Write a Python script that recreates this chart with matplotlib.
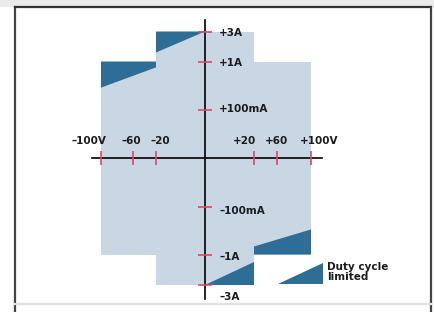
import numpy as np
import matplotlib
matplotlib.use("Agg")
import matplotlib.pyplot as plt
from matplotlib.patches import Polygon
from matplotlib.lines import Line2D

# ---------------- data ----------------
volt_ticks = [-100, -60, -20, 20, 60, 100]
volt_labels = ["–100V", "–60", "–20", "+20", "+60", "+100V"]
amp_ticks = [3, 1, 0.1, -0.1, -1, -3]
amp_labels = ["+3A", "+1A", "+100mA", "–100mA", "–1A", "–3A"]

# safe operating area outline (V, A)
soa_v = [-20, 20, 20, 100, 100, 20, 20, -20, -20, -100, -100, -20]
soa_a = [3, 3, 1, 1, -1, -1, -3, -3, -1, -1, 1, 1]

# duty-cycle-limited regions (V, A)
duty1_v = [-20, 0, -20]
duty1_a = [3, 3, 1.6]
duty2_v = [-100, -20, -20, -100]
duty2_a = [1, 1, 0.89, 0.51]
duty3_v = [20, 100, 100, 20]
duty3_a = [-1, -1, -0.53, -0.85]
duty4_v = [0, 20, 20]
duty4_a = [-3, -3, -1.53]

legend_text = "Duty cycle\nlimited"

# ---------------- scale definitions (non-linear axes) ----------------
x_anchor_vals = [-100, -60, -20, 0, 20, 60, 100]
x_anchor_px = [-104, -72, -49, 0, 49, 72, 106]
y_anchor_vals = [-3, -1, -0.1, 0, 0.1, 1, 3]
y_anchor_px = [-126.5, -96.5, -48.5, 0, 48.5, 96.5, 126.5]


def pw_map(src, dst):
    src = np.asarray(src, float)
    dst = np.asarray(dst, float)
    lo = (dst[1] - dst[0]) / (src[1] - src[0])
    hi = (dst[-1] - dst[-2]) / (src[-1] - src[-2])

    def f(v):
        v = np.asarray(v, float)
        out = np.interp(v, src, dst)
        out = np.where(v < src[0], dst[0] + (v - src[0]) * lo, out)
        out = np.where(v > src[-1], dst[-1] + (v - src[-1]) * hi, out)
        return out
    return f


xf, xi = pw_map(x_anchor_vals, x_anchor_px), pw_map(x_anchor_px, x_anchor_vals)
yf, yi = pw_map(y_anchor_vals, y_anchor_px), pw_map(y_anchor_px, y_anchor_vals)

W, H = 434, 312
X0, Y0 = 205, 158  # pixel position of the origin (from top-left)

LIGHT = "#c9d6e3"
DARK = "#2e6d95"
RED = "#d94a66"
TXT = "#1c1c1c"

fig = plt.figure(figsize=(W / 100, H / 100), dpi=100)
fig.patch.set_facecolor("white")


def fx(px):
    return px / W


def fy(py):
    return 1 - py / H


# background strip / frame
fig.add_artist(plt.Rectangle((0, fy(7)), 1, 7 / H, transform=fig.transFigure,
                             color="#ebebeb", lw=0, zorder=0))
for (xa, ya, xb, yb, c) in [(15, 7, 15, 312, "#444444"), (15, 7, 431, 7, "#333333"),
                            (431, 7, 431, 312, "#444444"), (15, 304, 431, 304, "#e2e2e2")]:
    fig.add_artist(Line2D([fx(xa), fx(xb)], [fy(ya), fy(yb)], transform=fig.transFigure,
                          color=c, lw=1.6, zorder=1))

ax = fig.add_axes([0, 0, 1, 1])
ax.set_xscale("function", functions=(xf, xi))
ax.set_yscale("function", functions=(yf, yi))
ax.set_xlim(float(xi(-X0)), float(xi(W - X0)))
ax.set_ylim(float(yi(-(H - Y0))), float(yi(Y0)))
ax.axis("off")
ax.patch.set_alpha(0)

ax.add_patch(Polygon(np.column_stack([soa_v, soa_a]), closed=True, fc=LIGHT, ec="none", zorder=1))
for vv, aa in [(duty1_v, duty1_a), (duty2_v, duty2_a), (duty3_v, duty3_a), (duty4_v, duty4_a)]:
    ax.add_patch(Polygon(np.column_stack([vv, aa]), closed=True, fc=DARK, ec="none", zorder=2))

# axes lines
ax.axhline(0, xmin=92 / W, xmax=322 / W, color="black", lw=1.2, zorder=3)
ax.axvline(0, ymin=(H - 299) / H, ymax=(H - 20) / H, color="black", lw=1.2, zorder=3)

# tick marks
ax.plot(volt_ticks, np.zeros(len(volt_ticks)), ls="", marker="|", ms=10, mew=1.2,
        color=RED, zorder=4)
ax.plot(np.zeros(len(amp_ticks)), amp_ticks, ls="", marker="_", ms=9.5, mew=1.2,
        color=RED, zorder=4)

PT = 72 / 100  # points per pixel
x_lab_dx = [-12, -2, 4, -9, 0, 8]
for v, lab, dx in zip(volt_ticks, volt_labels, x_lab_dx):
    ax.annotate(lab, (v, 0), xytext=(dx * PT, 17 * PT), textcoords="offset points",
                ha="center", va="center", fontsize=7.5, fontweight="bold", color=TXT, zorder=5)

y_lab_dy = [-1, -2, 0, -4, -2, -12]
for a, lab, dy in zip(amp_ticks, amp_labels, y_lab_dy):
    ax.annotate(lab, (0, a), xytext=(14 * PT, dy * PT), textcoords="offset points",
                ha="left", va="center", fontsize=7.5, fontweight="bold", color=TXT, zorder=5)

# legend key
fig.add_artist(Polygon([(fx(278), fy(284)), (fx(323), fy(284)), (fx(323), fy(263))],
                       closed=True, transform=fig.transFigure, fc=DARK, ec="none", zorder=5))
fig.text(fx(327), fy(272), legend_text, ha="left", va="center", fontsize=7.5,
         fontweight="bold", color=TXT, linespacing=1.0)

fig.savefig("out.png", dpi=100)
